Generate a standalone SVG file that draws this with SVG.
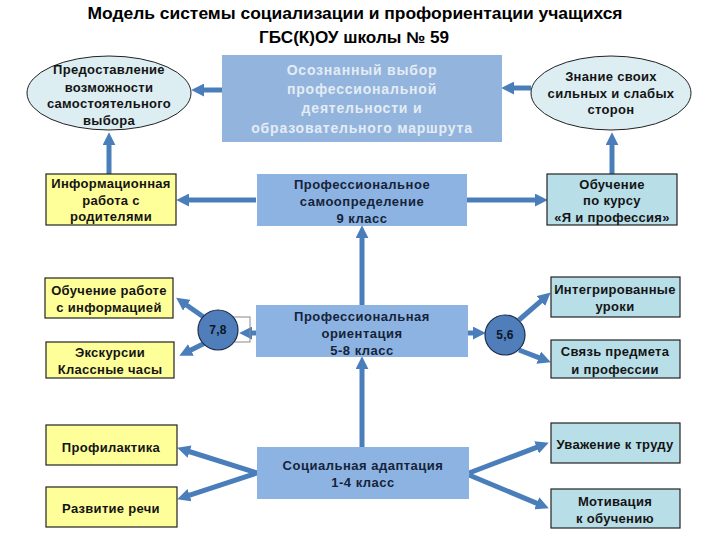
<svg xmlns="http://www.w3.org/2000/svg" width="720" height="540" viewBox="0 0 720 540">
<defs>
<marker id="ah" viewBox="0 0 12 12" markerWidth="13" markerHeight="13" refX="2" refY="6" orient="auto" markerUnits="userSpaceOnUse"><path d="M0,0 L12,6 L0,12 z" fill="#4A7EBB"/></marker>
</defs>
<style>
text{font-family:"Liberation Sans",Arial,sans-serif;font-weight:bold;font-size:13px;text-anchor:middle;dominant-baseline:central;fill:#141414;letter-spacing:0.3px}
.title{font-size:16px;fill:#000;letter-spacing:0}
.main{fill:#8DB3E2}
.top{fill:#93B4DC}
.topt{fill:#E4ECF6;font-size:14px;letter-spacing:0.8px}
.mt{fill:#16233A;letter-spacing:0.5px}
.ell{fill:#DDEEF3;stroke:#222;stroke-width:1}
.yel{fill:#FFFF99;stroke:#222;stroke-width:1.2}
.cy{fill:#B8DEE8;stroke:#222;stroke-width:1.2}
.circ{fill:#4F7EBB;stroke:#1C2E4A;stroke-width:1.2}
.ct{font-size:12px;fill:#0D1626}
#connectors line{stroke:#4A7EBB;stroke-width:5;marker-end:url(#ah)}
</style>
<rect width="720" height="540" fill="#fff"/>
<g id="title">
<text class="title" x="355" y="13" textLength="535" lengthAdjust="spacingAndGlyphs">Модель системы социализации и профориентации учащихся</text>
<text class="title" x="354" y="37" textLength="190" lengthAdjust="spacingAndGlyphs">ГБС(К)ОУ школы № 59</text>
</g>
<g id="connectors">
<line x1="222" y1="90" x2="202" y2="90"/>
<line x1="109" y1="174" x2="109" y2="143"/>
<line x1="531" y1="88" x2="512" y2="88"/>
<line x1="612" y1="174" x2="612" y2="143"/>
<line x1="256" y1="200" x2="187" y2="200"/>
<line x1="467" y1="200" x2="537" y2="200"/>
<line x1="362" y1="305" x2="362" y2="236"/>
<line x1="362" y1="447" x2="362" y2="367"/>
<line x1="256" y1="333" x2="250" y2="333"/>
<line x1="205" y1="318" x2="185" y2="304"/>
<line x1="205" y1="343" x2="189" y2="351"/>
<line x1="468" y1="333" x2="475" y2="333"/>
<line x1="519" y1="320" x2="542.5" y2="299.6"/>
<line x1="519" y1="350" x2="540.7" y2="358.4"/>
<line x1="257" y1="473" x2="187.5" y2="451"/>
<line x1="257" y1="473" x2="187.5" y2="495.9"/>
<line x1="469" y1="473" x2="538.6" y2="446.6"/>
<line x1="469" y1="475" x2="538.8" y2="504.1"/>
</g>
<g id="n-choice">
<rect class="top" x="222" y="55" width="280" height="87"/>
<text class="topt" x="362" y="70">Осознанный выбор</text>
<text class="topt" x="362" y="89">профессиональной</text>
<text class="topt" x="362" y="108">деятельности и</text>
<text class="topt" x="362" y="128">образовательного маршрута</text>
</g>
<g id="n-left-ellipse">
<ellipse class="ell" cx="109" cy="93" rx="82" ry="37"/>
<text x="109" y="69">Предоставление</text>
<text x="109" y="87">возможности</text>
<text x="109" y="103">самостоятельного</text>
<text x="109" y="120">выбора</text>
</g>
<g id="n-right-ellipse">
<ellipse class="ell" cx="611" cy="93" rx="80" ry="37"/>
<text x="611" y="76">Знание своих</text>
<text x="611" y="93">сильных и слабых</text>
<text x="611" y="109">сторон</text>
</g>
<g id="n-grade9">
<rect class="main" x="257" y="174" width="210" height="52"/>
<text class="mt" x="362" y="184">Профессиональное</text>
<text class="mt" x="362" y="201">самоопределение</text>
<text class="mt" x="362" y="218">9 класс</text>
</g>
<g id="n-grade58">
<rect class="main" x="256" y="305" width="212" height="52"/>
<text class="mt" x="362" y="316">Профессиональная</text>
<text class="mt" x="362" y="333">ориентация</text>
<text class="mt" x="362" y="350">5-8 класс</text>
</g>
<g id="n-grade14">
<rect class="main" x="257" y="447" width="212" height="52"/>
<text class="mt" x="363" y="465">Социальная адаптация</text>
<text class="mt" x="363" y="482">1-4 класс</text>
</g>
<g id="n-parents">
<rect class="yel" x="46" y="174" width="130" height="51"/>
<text x="111" y="183">Информационная</text>
<text x="111" y="200">работа с</text>
<text x="111" y="216">родителями</text>
</g>
<g id="n-course">
<rect class="cy" x="547" y="174" width="130" height="51"/>
<text x="612" y="184">Обучение</text>
<text x="612" y="200">по курсу</text>
<text x="612" y="217">«Я и профессия»</text>
</g>
<g id="n-info">
<rect class="yel" x="45" y="278" width="128" height="40"/>
<text x="109" y="290">Обучение работе</text>
<text x="109" y="307">с информацией</text>
</g>
<g id="n-excursions">
<rect class="yel" x="46" y="342" width="128" height="36"/>
<text x="110" y="352">Экскурсии</text>
<text x="110" y="369">Классные часы</text>
</g>
<g id="n-c78">
<rect x="218" y="317" width="32" height="25" fill="none" stroke="#8A8A8A" stroke-width="1"/>
<circle class="circ" cx="218" cy="330" r="20"/>
<text class="ct" x="218" y="330">7,8</text>
</g>
<g id="n-c56">
<circle class="circ" cx="505" cy="335" r="20"/>
<text class="ct" x="505" y="335">5,6</text>
</g>
<g id="n-integrated">
<rect class="cy" x="551" y="277" width="129" height="40"/>
<text x="615" y="289">Интегрированные</text>
<text x="615" y="306">уроки</text>
</g>
<g id="n-link">
<rect class="cy" x="551" y="340" width="129" height="38"/>
<text x="615" y="351">Связь предмета</text>
<text x="615" y="369">и профессии</text>
</g>
<g id="n-prevention">
<rect class="yel" x="46" y="425" width="131" height="40"/>
<text x="111" y="447">Профилактика</text>
</g>
<g id="n-speech">
<rect class="yel" x="46" y="487" width="131" height="40"/>
<text x="111" y="508">Развитие речи</text>
</g>
<g id="n-respect">
<rect class="cy" x="551" y="423" width="129" height="40"/>
<text x="615" y="444">Уважение к труду</text>
</g>
<g id="n-motivation">
<rect class="cy" x="551" y="489" width="129" height="39"/>
<text x="615" y="501">Мотивация</text>
<text x="615" y="518">к обучению</text>
</g>
</svg>
